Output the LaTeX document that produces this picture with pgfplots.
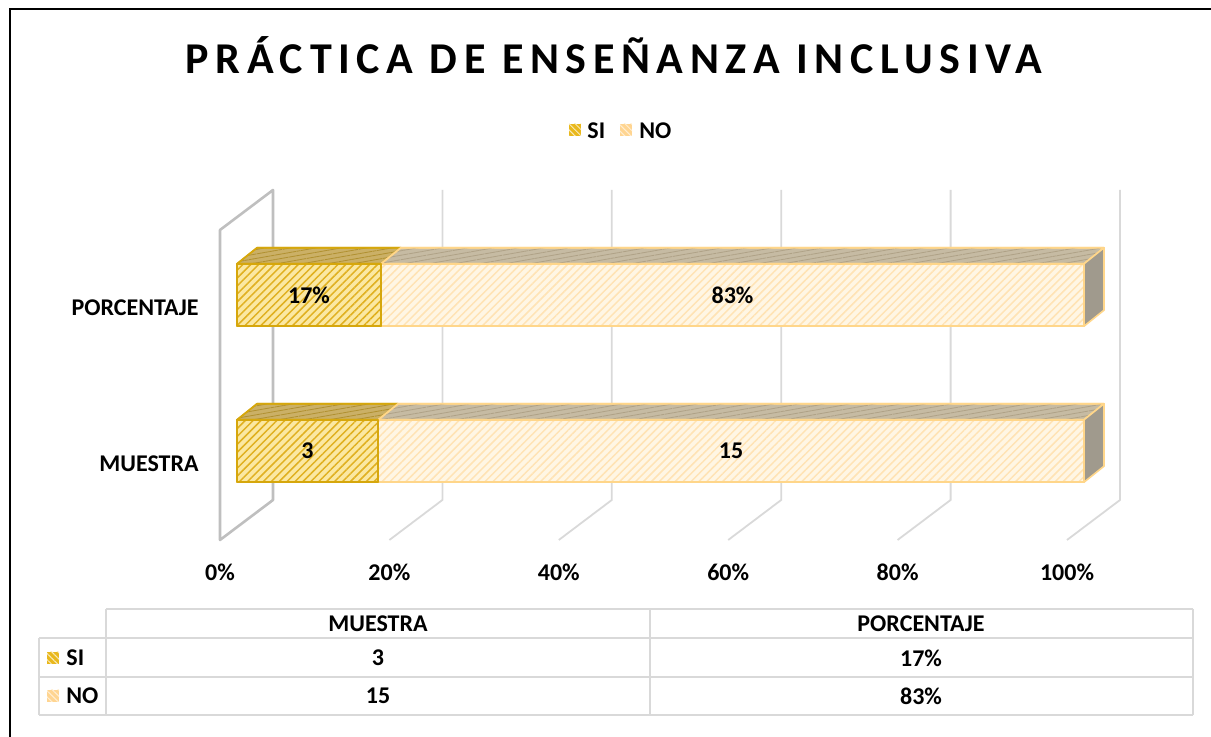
\documentclass[border=0pt]{standalone}
\usepackage{pgfplots}
\pgfplotsset{compat=1.18}
\usetikzlibrary{patterns.meta}
\usepackage{fontspec}
\setmainfont{Carlito}
\definecolor{gridc}{HTML}{D9D9D9}
\definecolor{wallc}{HTML}{BFBFBF}
\definecolor{sifill}{HTML}{FBE8A2}
\definecolor{siline}{HTML}{E0B020}
\definecolor{siedge}{HTML}{D6A70C}
\definecolor{sitop}{HTML}{CBB066}
\definecolor{sitopline}{HTML}{B09030}
\definecolor{nofill}{HTML}{FFF6E4}
\definecolor{noline}{HTML}{FFE3B4}
\definecolor{noedge}{HTML}{FFD68A}
\definecolor{notop}{HTML}{C6BBA3}
\definecolor{notopline}{HTML}{AFA287}
\definecolor{noside}{HTML}{A09A8D}
\definecolor{siswatch}{HTML}{E9B81C}
\definecolor{noswatch}{HTML}{FFD591}
\begin{document}
\begin{tikzpicture}
% ---------- background: frame, title, legend, walls, gridlines ----------
\begin{scope}[x=0.5pt,y=-0.5pt,shift={(0pt,368.5pt)}]
  \path (0,0) rectangle (1211,737);
  \draw[line width=1pt] (9.5,737) -- (9.5,9.5) -- (1211,9.5);
  \node[anchor=base,inner sep=0pt,font=\fontsize{22}{24}\selectfont\bfseries\addfontfeature{LetterSpace=15}]
     at (614,74) {PRÁCTICA DE ENSEÑANZA INCLUSIVA};
  % legend
  \fill[siswatch] (569,124) rectangle (581,136);
  \fill[pattern={Lines[angle=-45,distance=2.2pt,line width=0.5pt]},pattern color=white!70!siswatch] (569,124) rectangle (581,136);
  \node[anchor=west,inner sep=0pt,font=\fontsize{12}{14}\selectfont\bfseries] at (587,130.5) {SI};
  \fill[noswatch] (620,124) rectangle (632,136);
  \fill[pattern={Lines[angle=-45,distance=2.2pt,line width=0.5pt]},pattern color=white!60!noswatch] (620,124) rectangle (632,136);
  \node[anchor=west,inner sep=0pt,font=\fontsize{12}{14}\selectfont\bfseries] at (639,130.5) {NO};
  % gridlines (back verticals + floor diagonals)
  \foreach \k in {1,...,5}{
    \draw[gridc,line width=0.9pt] ({273+169.4*\k},190) -- ({273+169.4*\k},500) -- ({220+169.4*\k},540);
  }
  % left wall
  \draw[wallc,line width=1.3pt,line join=round] (220,540) -- (220,230) -- (273,190) -- (273,500) -- cycle;
  % data table
  \begin{scope}[gridc,line width=1pt]
    \draw (106,609) -- (1193,609);
    \draw (39,638) -- (1193,638);
    \draw (39,677) -- (1193,677);
    \draw (39,715) -- (1193,715);
    \draw (39,638) -- (39,715);
    \draw (106,609) -- (106,715);
    \draw (650,609) -- (650,715);
    \draw (1193,609) -- (1193,715);
  \end{scope}
  \begin{scope}[every node/.style={inner sep=0pt,font=\fontsize{12}{14}\selectfont\bfseries}]
    \node at (378,624) {MUESTRA};
    \node at (921,624) {PORCENTAJE};
    \node at (378,658) {3};
    \node at (921,658) {17\%};
    \node at (378,696) {15};
    \node at (921,696) {83\%};
    \node[anchor=west] at (66,658) {SI};
    \node[anchor=west] at (66,696) {NO};
  \end{scope}
  \fill[siswatch] (47,652) rectangle (59,664);
  \fill[pattern={Lines[angle=-45,distance=2.2pt,line width=0.5pt]},pattern color=white!70!siswatch] (47,652) rectangle (59,664);
  \fill[noswatch] (47,690) rectangle (59,702);
  \fill[pattern={Lines[angle=-45,distance=2.2pt,line width=0.5pt]},pattern color=white!60!noswatch] (47,690) rectangle (59,702);
\end{scope}
% ---------- the bars ----------
\begin{axis}[
  at={(118.5pt,105pt)}, anchor=south west,
  scale only axis, width=423.5pt, height=155pt,
  xmin=0, xmax=100, ymin=-0.4872, ymax=1.5,
  clip=false,
  axis line style={draw=none},
  major tick style={draw=none},
  xtick={0,20,40,60,80,100},
  xticklabels={0\%,20\%,40\%,60\%,80\%,100\%},
  ytick={0,1}, yticklabels={MUESTRA,PORCENTAJE},
  tick label style={font=\fontsize{12}{14}\selectfont\bfseries},
  xticklabel style={anchor=center, xshift=-8.5pt, yshift=-22.5pt},
  yticklabel style={anchor=east, inner sep=0pt, xshift=-19pt, yshift=-6.5pt},
  sifront/.style={fill=sifill, draw=siedge, line width=0.8pt, line join=round,
     postaction={pattern color=siline, pattern={Lines[angle=45,distance=2.8pt,line width=0.75pt]}}},
  sitopst/.style={fill=sitop, draw=siedge, line width=0.8pt, line join=round,
     postaction={pattern color=sitopline, pattern={Lines[angle=10,distance=2.2pt,line width=0.4pt]}}},
  nofront/.style={fill=nofill, draw=noedge, line width=0.8pt, line join=round,
     postaction={pattern color=noline, pattern={Lines[angle=45,distance=2.8pt,line width=0.75pt]}}},
  notopst/.style={fill=notop, draw=noedge, line width=0.8pt, line join=round,
     postaction={pattern color=notopline, pattern={Lines[angle=10,distance=2.2pt,line width=0.4pt]}}},
  nosidest/.style={fill=noside, draw=noedge, line width=0.8pt, line join=round},
]
% MUESTRA (y=0): SI = 3 of 18 -> 16.67 %, NO = 15 of 18 -> 83.33 %
\addplot[sitopst]  coordinates {(0,0.2) (16.67,0.2) (19.03,0.3026) (2.36,0.3026)} -- cycle;
\addplot[notopst]  coordinates {(16.67,0.2) (100,0.2) (102.36,0.3026) (19.03,0.3026)} -- cycle;
\addplot[nosidest] coordinates {(100,-0.2) (102.36,-0.0974) (102.36,0.3026) (100,0.2)} -- cycle;
\addplot[nofront]  coordinates {(16.67,-0.2) (100,-0.2) (100,0.2) (16.67,0.2)} -- cycle;
\addplot[sifront]  coordinates {(0,-0.2) (16.67,-0.2) (16.67,0.2) (0,0.2)} -- cycle;
% PORCENTAJE (y=1): SI = 17 %, NO = 83 %
\addplot[sitopst]  coordinates {(0,1.2) (17,1.2) (19.36,1.3026) (2.36,1.3026)} -- cycle;
\addplot[notopst]  coordinates {(17,1.2) (100,1.2) (102.36,1.3026) (19.36,1.3026)} -- cycle;
\addplot[nosidest] coordinates {(100,0.8) (102.36,0.9026) (102.36,1.3026) (100,1.2)} -- cycle;
\addplot[nofront]  coordinates {(17,0.8) (100,0.8) (100,1.2) (17,1.2)} -- cycle;
\addplot[sifront]  coordinates {(0,0.8) (17,0.8) (17,1.2) (0,1.2)} -- cycle;
% data labels
\addplot[draw=none, nodes near coords, point meta=explicit symbolic,
  every node near coord/.append style={anchor=center, inner sep=0pt, font=\fontsize{12}{14}\selectfont\bfseries}]
  coordinates {(8.33,0) [3] (58.33,0) [15] (8.5,1) [17\%] (58.5,1) [83\%]};
\end{axis}
\pgfresetboundingbox
\path (0,0) rectangle (605.5pt,368.5pt);
\end{tikzpicture}
\end{document}
